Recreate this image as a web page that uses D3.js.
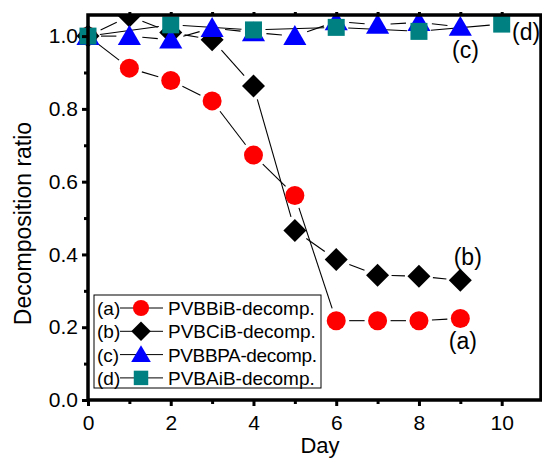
<!DOCTYPE html>
<html>
<head>
<meta charset="utf-8">
<script src="https://cdn.jsdelivr.net/npm/d3@7"></script>
<style>
	body { margin: 0; background: #fff; }
	text { font-family: "Liberation Sans", Arial, sans-serif; }
</style>
</head>
<body>
<svg id="chart" width="542" height="459"></svg>
<script>
// data
const days = [0, 1, 2, 3, 4, 5, 6, 7, 8, 9, 10];
const seriesA = [1.0, 0.912, 0.878, 0.822, 0.673, 0.562, 0.218, 0.218, 0.218, 0.224];
const seriesB = [1.0, 1.055, 1.01, 0.99, 0.863, 0.466, 0.386, 0.343, 0.340, 0.329];
const seriesC = [1.0, 1.0, 0.99, 1.022, 1.01, 1.0, 1.04, 1.031, 1.038, 1.025];
const daysD = [0, 2, 4, 6, 8, 10];
const seriesD = [1.0, 1.031, 1.017, 1.024, 1.013, 1.033];
const legendNames = ["PVBBiB-decomp.", "PVBCiB-decomp.", "PVBBPA-decomp.", "PVBAiB-decomp."];
const seriesTags = ["(a)", "(b)", "(c)", "(d)"];
const xTicks = [0, 2, 4, 6, 8, 10];
const yTicks = [0.0, 0.2, 0.4, 0.6, 0.8, 1.0];

const svg = d3.select("#chart");
const margin = { top: 15, right: 1, bottom: 59, left: 88 };
const width = 542, height = 459;

const x = d3.scaleLinear().domain([0, 10.95]).range([margin.left, width - margin.right]);
const y = d3.scaleLinear().domain([0, 1.058]).range([height - margin.bottom, margin.top]);

/* marker drawing per series */
const symbols = {
	circle: (g, r) => g.append("circle").attr("r", r),
	diamond: (g, r) => g.append("path").attr("d", `M0,${-r}L${r},0L0,${r}L${-r},0Z`),
	triangle: (g, r) => g.append("path").attr("d", `M0,${-r}L${r * 1.05},${r * 0.8}L${-r * 1.05},${r * 0.8}Z`),
	square: (g, r) => g.append("rect").attr("x", -r).attr("y", -r).attr("width", 2 * r).attr("height", 2 * r)
};

const series = [
	{ xs: days, ys: seriesA, color: "#ff0000", shape: "circle", r: 9.5, gap: 13 },
	{ xs: days, ys: seriesB, color: "#000000", shape: "diamond", r: 11.5, gap: 14 },
	{ xs: days, ys: seriesC, color: "#0000ff", shape: "triangle", r: 11, gap: 13 },
	{ xs: daysD, ys: seriesD, color: "#008080", shape: "square", r: 8.5, gap: 12 }
];

/* connecting lines with small gaps around markers */
function drawGapLine(s) {
	const pts = s.ys.map((v, i) => [x(s.xs[i]), y(v)]);
	for (let i = 0; i < pts.length - 1; i++) {
		const [x1, y1] = pts[i], [x2, y2] = pts[i + 1];
		const len = Math.hypot(x2 - x1, y2 - y1);
		if (len <= 2 * s.gap) continue;
		const ux = (x2 - x1) / len, uy = (y2 - y1) / len;
		svg.append("line")
			.attr("x1", x1 + ux * s.gap).attr("y1", y1 + uy * s.gap)
			.attr("x2", x2 - ux * s.gap).attr("y2", y2 - uy * s.gap)
			.attr("stroke", "#000")
			.attr("stroke-width", 1.1);
	}
}

series.forEach(s => drawGapLine(s));

series.forEach(s => {
	s.ys.forEach((v, i) => {
		const g = svg.append("g").attr("transform", `translate(${x(s.xs[i])},${y(v)})`);
		symbols[s.shape](g, s.r).attr("fill", s.color);
	});
});

// white mask above the frame so clipped markers look like the original
svg.append("rect").attr("x", 0).attr("y", 0).attr("width", width).attr("height", margin.top - 1).attr("fill", "#fff");

/* axes */
svg.append("rect")
	.attr("x", margin.left).attr("y", margin.top)
	.attr("width", width - margin.left - margin.right)
	.attr("height", height - margin.top - margin.bottom)
	.attr("fill", "none")
	.attr("stroke", "#000")
	.attr("stroke-width", 3.5);

const xAxis = svg.append("g")
	.attr("transform", `translate(0,${height - margin.bottom})`)
	.call(d3.axisBottom(x).tickValues(xTicks).tickFormat(d3.format("d")).tickSize(6).tickPadding(9));
const xMinor = svg.append("g")
	.attr("transform", `translate(0,${height - margin.bottom})`)
	.call(d3.axisBottom(x).tickValues([1, 3, 5, 7, 9]).tickFormat("").tickSize(4));

const yAxis = svg.append("g")
	.attr("transform", `translate(${margin.left},0)`)
	.call(d3.axisLeft(y).tickValues(yTicks).tickFormat(d3.format(".1f")).tickSize(6).tickPadding(4));
const yMinor = svg.append("g")
	.attr("transform", `translate(${margin.left},0)`)
	.call(d3.axisLeft(y).tickValues([0.1, 0.3, 0.5, 0.7, 0.9]).tickFormat("").tickSize(4));

// top and right small ticks
const xTop = svg.append("g")
	.attr("transform", `translate(0,${margin.top})`)
	.call(d3.axisTop(x).tickValues(d3.range(1, 11)).tickFormat("").tickSize(3));
const yRight = svg.append("g")
	.attr("transform", `translate(${width - margin.right},0)`)
	.call(d3.axisRight(y).tickValues(d3.range(0.1, 1.05, 0.1)).tickFormat("").tickSize(3));

[xAxis, xMinor, yAxis, yMinor, xTop, yRight].forEach(a => {
	a.select(".domain").remove();
	a.selectAll(".tick line").attr("stroke", "#000").attr("stroke-width", 3);
	a.selectAll("text").attr("font-size", 21).attr("fill", "#000");
});

/* axis titles */
svg.append("text")
	.attr("x", 320).attr("y", 453)
	.attr("text-anchor", "middle")
	.attr("font-size", 22)
	.text("Day");

svg.append("text")
	.attr("transform", `translate(31,${y(0.485)}) rotate(-90)`)
	.attr("text-anchor", "middle")
	.attr("font-size", 23)
	.text("Decomposition ratio");

/* series labels, placed in data units */
const tagX = [8.72, 8.84, 8.8, 10.25];
const tagY = [0.141, 0.37, 0.94, 0.99];
tagX.forEach((v, i) => {
	svg.append("text")
		.attr("x", x(v))
		.attr("y", y(tagY[i]))
		.attr("font-size", 23)
		.text(seriesTags[i]);
});

/* legend */
const legend = svg.append("g").attr("transform", "translate(94,295)");
legend.append("rect")
	.attr("width", 227).attr("height", 93)
	.attr("fill", "#fff")
	.attr("stroke", "#000")
	.attr("stroke-width", 1);

series.forEach((s, i) => {
	const row = legend.append("g").attr("transform", `translate(0,${13 + i * 23.3})`);
	row.append("text")
		.attr("x", 3).attr("y", 7)
		.attr("font-size", 19)
		.text(seriesTags[i]);
	row.append("line")
		.attr("x1", 26).attr("x2", 69)
		.attr("stroke", "#000").attr("stroke-width", 1);
	const mg = row.append("g").attr("transform", "translate(47,0)");
	symbols[s.shape](mg, s.r * 0.85).attr("fill", s.color);
	row.append("text")
		.attr("x", 74).attr("y", 7)
		.attr("font-size", 19)
		.attr("textLength", i === 2 ? 149 : null)
		.text(legendNames[i]);
});
</script>
</body>
</html>
